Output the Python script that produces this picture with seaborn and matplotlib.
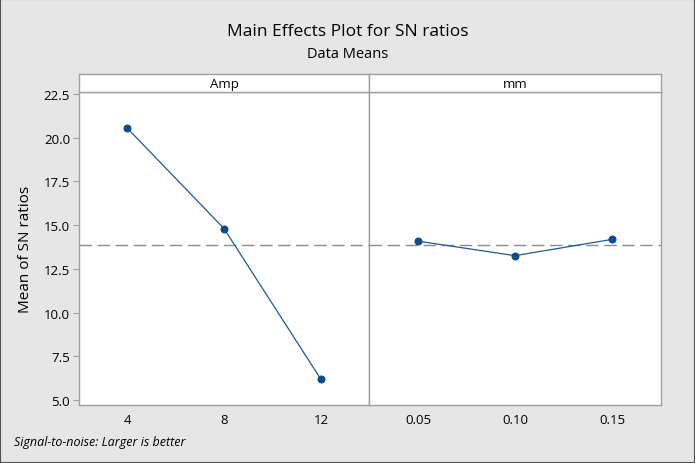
import matplotlib
matplotlib.use("Agg")
import matplotlib.pyplot as plt
import seaborn as sns
import pandas as pd
import numpy as np
from matplotlib.patches import Rectangle

amp_levels = ["4", "8", "12"]
amp_sn = [20.55, 14.8, 6.18]
mm_levels = ["0.05", "0.10", "0.15"]
mm_sn = [14.08, 13.25, 14.18]
ytick_vals = [5.0, 7.5, 10.0, 12.5, 15.0, 17.5, 20.0, 22.5]

sns.set_style("white")
plt.rcParams['font.family'] = ['Open Sans', 'DejaVu Sans']
plt.rcParams['text.color'] = 'black'
plt.rcParams['axes.labelcolor'] = 'black'
plt.rcParams['xtick.color'] = 'black'
plt.rcParams['ytick.color'] = 'black'

BG = "#e6e6e6"
LINE = "#1f5a96"
MARK = "#0c4a8a"
SPINE = "#a0a0a0"

fig = plt.figure(figsize=(6.95, 4.64), dpi=100, facecolor=BG)
fig.patches.append(Rectangle((0, 0), 1, 1, transform=fig.transFigure,
                             fill=False, edgecolor="#505050", linewidth=1.5))

L, R = 78.5 / 695, 660.5 / 695
MID = 369.5 / 695
B = 1 - 406 / 464
T = 1 - 93 / 464
ST = 1 - 75 / 464

panels = [("Amp", amp_levels, amp_sn, L, MID), ("mm", mm_levels, mm_sn, MID, R)]
overall = np.mean(amp_sn)  # overall mean of SN ratios

for i, (name, levels, vals, x0, x1) in enumerate(panels):
    ax = fig.add_axes([x0, B, x1 - x0, T - B])
    df = pd.DataFrame({"level": levels, "sn": vals})
    df["pos"] = range(len(levels))
    sns.lineplot(data=df, x="pos", y="sn", ax=ax, color=LINE, linewidth=0.9,
                 marker="o", markersize=5, markerfacecolor=MARK,
                 markeredgecolor=MARK)
    ax.axhline(overall, color="#8c8c8c", linestyle=(0, (9, 4)), linewidth=1.0, zorder=0)
    ax.set_xlim(-0.5, len(levels) - 0.5)
    ax.set_ylim(4.72, 22.6)
    ax.set_xticks(range(len(levels)))
    ax.set_xticklabels(levels, fontsize=9.5)
    ax.set_xlabel("")
    ax.set_facecolor("white")
    for s in ax.spines.values():
        s.set_color(SPINE)
        s.set_linewidth(1.0)
    ax.tick_params(axis="x", direction="out", length=4, color=SPINE, pad=2)
    if i == 0:
        ax.set_yticks(ytick_vals)
        ax.set_yticklabels([f"{v:.1f}" for v in ytick_vals], fontsize=9.5)
        ax.tick_params(axis="y", direction="out", length=4, color=SPINE, pad=2, left=True)
        ax.set_ylabel("Mean of SN ratios", fontsize=11, labelpad=8)
    else:
        ax.set_yticks(ytick_vals)
        ax.set_yticklabels([])
        ax.tick_params(axis="y", length=0)
        ax.set_ylabel("")
    sax = fig.add_axes([x0, T, x1 - x0, ST - T])
    sax.set_facecolor("white")
    sax.set_xticks([])
    sax.set_yticks([])
    for s in sax.spines.values():
        s.set_color(SPINE)
        s.set_linewidth(1.0)
    sax.text(0.5, 0.45, name, ha="center", va="center", fontsize=9.5,
             transform=sax.transAxes)

fig.text(0.5, 1 - 32 / 464, "Main Effects Plot for SN ratios", ha="center",
         va="center", fontsize=12.5)
fig.text(0.5, 1 - 54 / 464, "Data Means", ha="center", va="center", fontsize=10.5)
fig.text(14 / 695, 1 - 443 / 464, "Signal-to-noise: Larger is better",
         ha="left", va="center", fontsize=9, style="italic")

fig.savefig("out.png", dpi=100, facecolor=BG)
